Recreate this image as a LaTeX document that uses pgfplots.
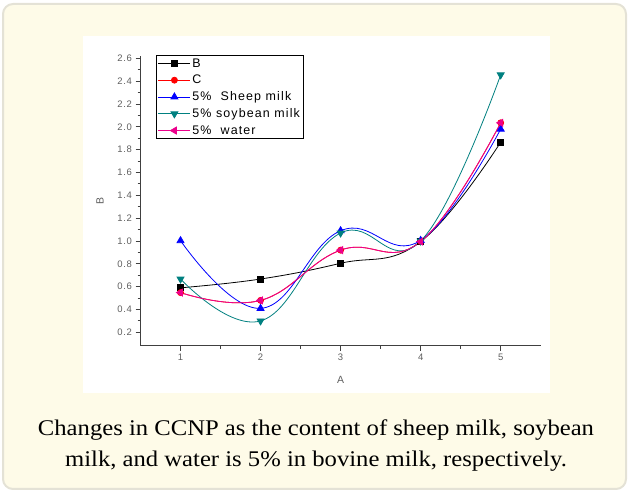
\documentclass[border=0pt]{standalone}
\usepackage{fontspec}
\setmainfont{Liberation Sans}
\newfontfamily\capfont[FakeStretch=1.10]{Liberation Serif}
\newfontfamily\origfont[LetterSpace=8]{Liberation Sans}
\newfontfamily\legfont[LetterSpace=9]{Liberation Sans}
\usepackage{pgfplots}
\pgfplotsset{compat=1.18}
\definecolor{cream}{RGB}{254,251,232}
\definecolor{framegray}{RGB}{228,226,214}
\definecolor{tickgray}{RGB}{95,95,95}
\definecolor{tealc}{RGB}{0,128,128}
\begin{document}
\begin{tikzpicture}
\path[use as bounding box] (0bp,0bp) rectangle (629bp,493bp);
\draw[framegray, line width=2bp, fill=cream, rounded corners=10bp] (3bp,4bp) rectangle (626bp,489bp);
\fill[white] (83bp,100bp) rectangle (550bp,457bp);
\begin{axis}[
  at={(140.5bp,147.3bp)}, anchor=south west,
  scale only axis, width=400.2bp, height=290bp,
  xmin=0.5, xmax=5.5, ymin=0.083, ymax=2.623,
  axis x line*=bottom, axis y line*=left,
  axis line style={-, line width=0.9bp, color=black!75},
  tick align=outside,
  xtick={1,2,3,4,5},
  ytick={0.2,0.4,0.6,0.8,1.0,1.2,1.4,1.6,1.8,2.0,2.2,2.4,2.6},
  minor tick num=1,
  major tick length=5bp, minor tick length=3bp,
  every tick/.style={black!75, line width=0.9bp},
  tick label style={font=\origfont\fontsize{9.5}{10}\selectfont, text=tickgray},
  /pgf/number format/assume math mode=true,
  yticklabel style={/pgf/number format/.cd, fixed, fixed zerofill, precision=1},
  xlabel={A}, ylabel={B},
  label style={font=\fontsize{10.5}{12}\selectfont, text=tickgray},
  xlabel style={at={(rel axis cs:0.5,0)}, yshift=-34bp, anchor=center},
  ylabel style={at={(rel axis cs:0,0.5)}, yshift=40.5bp, anchor=center},
  legend cell align=left,
  legend style={at={(rel axis cs:0.039,1.002)}, anchor=north west, draw=black, line width=0.8bp,
     font=\legfont\fontsize{12.5}{13}\selectfont, row sep=3.2bp, inner sep=1.5bp,
     nodes={inner sep=1.6bp}},
  legend image code/.code={\draw[mark repeat=2,mark phase=2,line width=0.8bp] plot coordinates {(0bp,0bp)(16bp,0bp)(32bp,0bp)};},
  every axis plot/.append style={line width=0.8bp, smooth, tension=0.72},
]
\addplot[black, mark=square*, mark size=3bp] coordinates {(1,0.59)(2,0.667)(3,0.805)(4,0.995)(5,1.865)};
\addlegendentry{B}
\addplot[red, mark=*, mark size=3bp] coordinates {(1,0.548)(2,0.48)(3,0.92)(4,0.995)(5,2.035)};
\addlegendentry{C}
\addplot[blue, mark=triangle*, mark size=4bp] coordinates {(1,1.003)(2,0.41)(3,1.09)(4,1.005)(5,1.98)};
\addlegendentry{5\%\ \ Sheep milk}
\addplot[tealc, mark=triangle*, mark size=4bp, mark options={rotate=180}] coordinates {(1,0.667)(2,0.30)(3,1.07)(4,1.0)(5,2.455)};
\addlegendentry{5\% soybean milk}
\addplot[magenta, mark=triangle*, mark size=4bp, mark options={rotate=90}] coordinates {(1,0.548)(2,0.48)(3,0.92)(4,0.995)(5,2.035)};
\addlegendentry{5\%\ \ water}
\end{axis}
\node[anchor=base, font=\capfont\fontsize{22.5}{26}\selectfont] at (316bp,57bp) {Changes in CCNP as the content of sheep milk, soybean};
\node[anchor=base, font=\capfont\fontsize{22.5}{26}\selectfont] at (316bp,27bp) {milk, and water is 5\% in bovine milk, respectively.};
\end{tikzpicture}
\end{document}
